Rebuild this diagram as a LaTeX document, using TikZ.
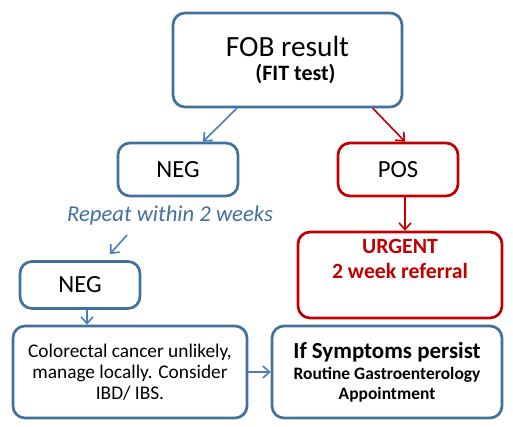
\documentclass[tikz,border=0pt]{standalone}
\usepackage{fontspec}
\setmainfont{Carlito}
\usepackage{tikz}
\usetikzlibrary{arrows.meta}
\definecolor{boxblue}{HTML}{41719C}
\definecolor{arrowblue}{HTML}{4A7EBB}
\definecolor{darkred}{HTML}{C00000}
\tikzstyle{bluebox} = [draw=boxblue, fill=white, line width=2pt,
    rectangle, rounded corners=9pt, align=center, inner sep=2pt]
\tikzstyle{redbox} = [bluebox, draw=darkred]
\tikzstyle{bluearrow} = [draw=arrowblue, line width=1.2pt, -{Straight Barb[length=5pt,width=9pt]}]
\tikzstyle{redarrow} = [bluearrow, draw=darkred]

\begin{document}
\begin{tikzpicture}[x=0.75pt, y=-0.75pt]
\useasboundingbox (0,0) rectangle (513,427);
\node [bluebox, minimum width=171.75pt, minimum height=70.5pt] (fob) at (287.5,60)
    {\fontsize{22}{22}\selectfont FOB result\\[5pt]
     \hspace*{12pt}\fontsize{16.5}{21.75}\selectfont\bfseries (FIT test)};
\node [bluebox, minimum width=90pt, minimum height=39.75pt, font=\fontsize{18.5}{20}\selectfont] (neg) at (178,169.5) {NEG};
\node [redbox, minimum width=90pt, minimum height=39.75pt, font=\fontsize{18.5}{20}\selectfont] (pos) at (398,169.5) {POS};
\node [redbox, minimum width=153pt, minimum height=64.5pt, text=darkred,
    font=\fontsize{16.3}{18.75}\selectfont\bfseries] (urgent) at (400,275)
    {URGENT\\2 week referral\\\strut};
\node [text=boxblue, font=\fontsize{17}{18}\selectfont\itshape] (repeat) at (170,215) {Repeat within 2 weeks};
\node [bluebox, minimum width=90pt, minimum height=35.25pt, font=\fontsize{18.5}{20}\selectfont] (negb) at (80,285) {NEG};
\node [bluebox, minimum width=175.5pt, minimum height=69pt, font=\fontsize{14.5}{15.75}\selectfont] (colo) at (130,372)
    {Colorectal cancer unlikely,\\manage locally. Consider\\IBD/ IBS.};
\node [bluebox, minimum width=172.5pt, minimum height=69pt, font=\bfseries\fontsize{13.1}{15}\selectfont] (symp) at (387,372)
    {\fontsize{17.2}{17.2}\selectfont If Symptoms persist\\[1pt]
     Routine Gastroenterology\\Appointment};
\coordinate (rep-s) at (127,235);
\coordinate (rep-e) at (110,254);
% connectors
\draw [bluearrow] ([xshift=-38pt]fob.south) -- ([xshift=18.75pt]neg.north);
\draw [redarrow] ([xshift=64pt]fob.south) -- ([xshift=5.25pt]pos.north);
\draw [redarrow] ([xshift=5.25pt]pos.south) -- ([xshift=5.25pt]pos.south |- urgent.north);
\draw [bluearrow] (rep-s) -- (rep-e);
\draw [bluearrow] ([xshift=5.25pt]negb.south) -- ([xshift=5.25pt]negb.south |- colo.north);
\draw [bluearrow] (colo.east) -- (symp.west);
\end{tikzpicture}
\end{document}
